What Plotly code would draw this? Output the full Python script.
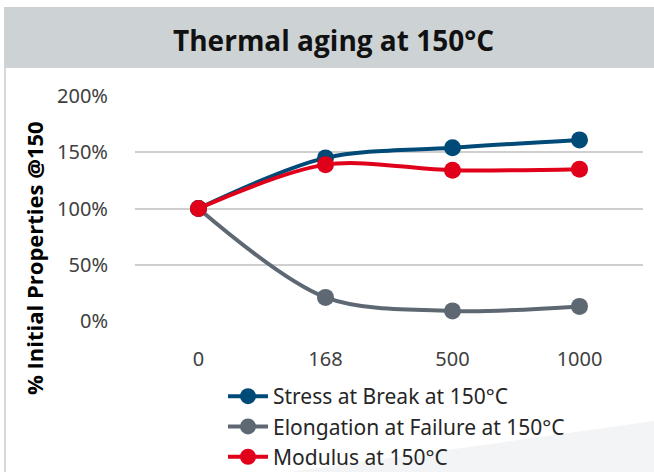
import plotly.graph_objects as go

# ---- data ----
hours = ["0", "168", "500", "1000"]
stress = [100, 145, 154, 161]
elongation = [100, 21, 9, 13]
modulus = [100, 139, 134, 135]
y_ticks = [0, 50, 100, 150, 200]
y_tick_labels = ["0%", "50%", "100%", "150%", "200%"]

W, H = 654, 472
L, R, T, B = 135, 11, 96, 151
PW, PH = W - L - R, H - T - B


def px(x):
    return (x - L) / PW


def py(y):
    return 1 - (y - T) / PH


fig = go.Figure()
fig.add_trace(go.Scatter(x=hours, y=elongation, name="Elongation at Failure at 150°C", legendgroup="b",
                         mode="lines+markers", line=dict(color="#5E6873", width=4, shape="spline", smoothing=0.9),
                         marker=dict(size=17, color="#5E6873"), legendrank=2))
fig.add_trace(go.Scatter(x=hours, y=stress, name="Stress at Break at 150°C", legendgroup="a",
                         mode="lines+markers", line=dict(color="#004A78", width=4, shape="spline", smoothing=0.9),
                         marker=dict(size=17, color="#004A78"), legendrank=1))
fig.add_trace(go.Scatter(x=hours, y=modulus, name="Modulus at 150°C", legendgroup="c",
                         mode="lines+markers", line=dict(color="#E1001A", width=4, shape="spline", smoothing=0.9),
                         marker=dict(size=17, color="#E1001A"), legendrank=3))

shapes = [
    dict(type="path", xref="paper", yref="paper", layer="below",
         path=f"M{px(290)},{py(472)} L{px(654)},{py(421)} L{px(654)},{py(472)} Z",
         fillcolor="#F3F4F6", line=dict(width=0)),
    dict(type="rect", xref="paper", yref="paper", layer="below",
         x0=px(4), x1=px(654), y0=py(68), y1=py(7), fillcolor="#CDD3D4", line=dict(width=0)),
    dict(type="line", xref="paper", yref="paper", layer="below",
         x0=px(5), x1=px(5), y0=py(68), y1=py(472), line=dict(color="#D6D9DB", width=2)),
]

fig.update_layout(
    width=W, height=H,
    margin=dict(l=L, r=R, t=T, b=B, autoexpand=False),
    paper_bgcolor="white", plot_bgcolor="white",
    font=dict(family="Noto Sans", color="#404040"),
    showlegend=True,
    legend=dict(x=px(223), y=py(376), xanchor="left", yanchor="top",
                font=dict(size=21, color="#262626", family="Noto Sans"),
                bgcolor="rgba(0,0,0,0)", tracegroupgap=0, itemwidth=40),
    shapes=shapes,
    annotations=[
        dict(text="Thermal aging at 150°C", xref="paper", yref="paper",
             x=px(333), y=py(40), xanchor="center", yanchor="middle", showarrow=False,
             font=dict(family="Open Sans", size=28, color="#111111", weight=700)),
        dict(text="% Initial Properties @150", xref="paper", yref="paper",
             x=px(34), y=py(258), xanchor="center", yanchor="middle", showarrow=False,
             textangle=-90, font=dict(family="Open Sans", size=22, color="#000000", weight=700)),
    ],
)
fig.update_xaxes(type="category", range=[-0.5, 3.5], showgrid=False, showline=False, zeroline=False,
                 ticks="", tickfont=dict(size=20, color="#404040"), ticklabelstandoff=24)
fig.update_yaxes(range=[0, 200], tickvals=y_ticks, ticktext=y_tick_labels, showgrid=True,
                 gridcolor="#CFCFCF", gridwidth=1.5, zeroline=False, showline=False, ticks="",
                 tickfont=dict(size=20, color="#404040"), ticklabelstandoff=26)

fig.write_html("out.html", config={"displayModeBar": False},
               post_script="document.body.style.margin='0';document.body.style.overflow='hidden';")
